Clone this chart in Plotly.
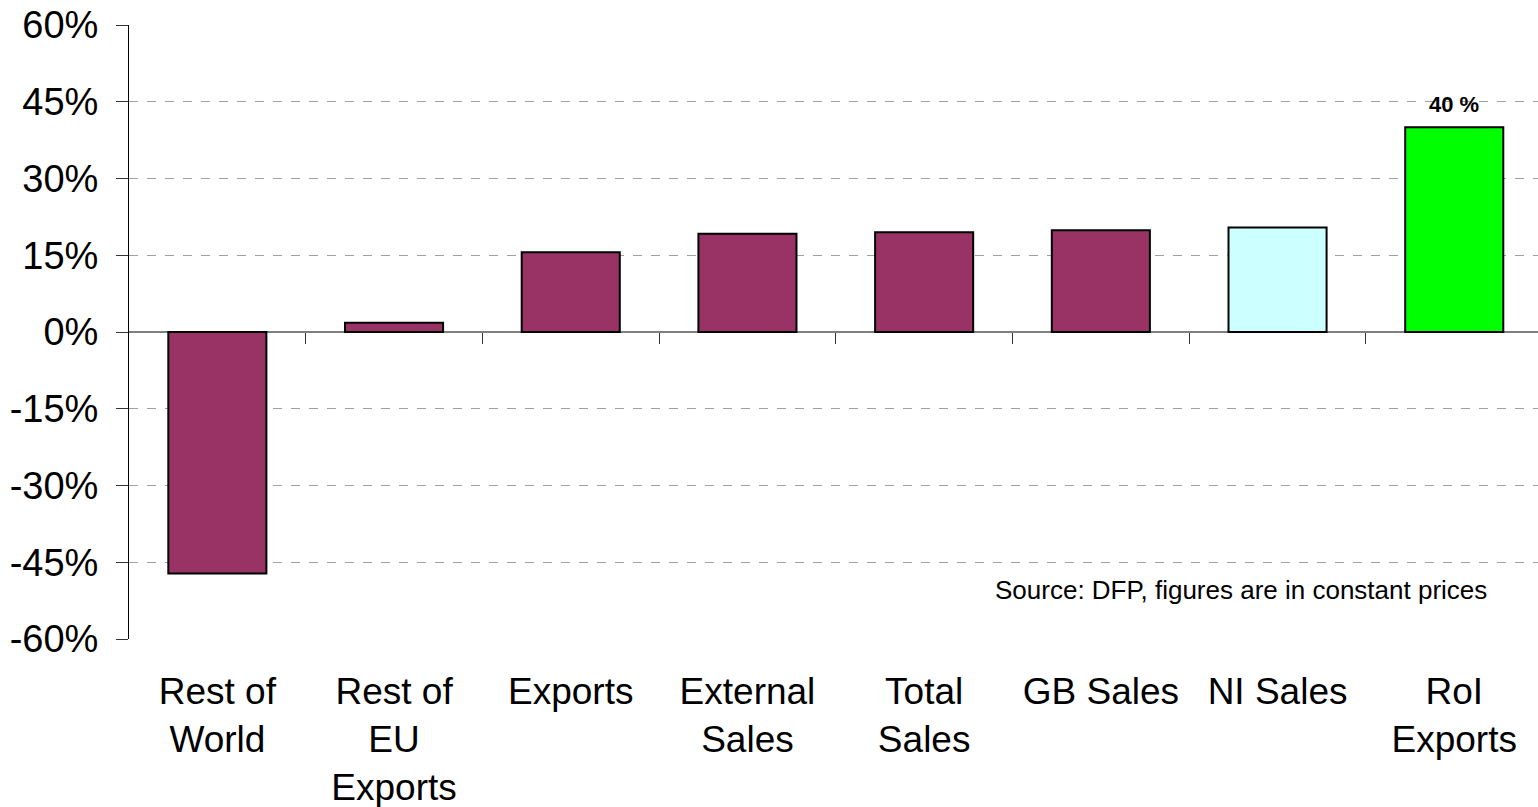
import plotly.graph_objects as go

# Growth by market, per cent change
categories = ["Rest of<br>World", "Rest of<br>EU<br>Exports", "Exports", "External<br>Sales",
              "Total<br>Sales", "GB Sales", "NI Sales", "RoI<br>Exports"]
growth = [-47.2, 1.8, 15.6, 19.2, 19.5, 19.9, 20.4, 40.0]
bar_colors = ["#993366", "#993366", "#993366", "#993366", "#993366", "#993366", "#CCFFFF", "#00FF00"]
y_ticks = [-60, -45, -30, -15, 0, 15, 30, 45, 60]
y_tick_text = ["-60%", "-45%", "-30%", "-15%", "0%", "15%", "30%", "45%", "60%"]
source_note = "Source: DFP, figures are in constant prices"

FONT = "Arial, Liberation Sans, sans-serif"
x_pos = list(range(len(categories)))
x_range = [-0.5, 7.474]

fig = go.Figure()

fig.add_trace(go.Bar(
    x=x_pos, y=growth,
    width=0.555,
    marker=dict(color=bar_colors, line=dict(color="black", width=2)),
    hoverinfo="skip", showlegend=False,
))

# invisible trace so the category-boundary tick axis is drawn
fig.add_trace(go.Scatter(
    x=[0], y=[0], xaxis="x2", yaxis="y", mode="markers",
    marker=dict(opacity=0), hoverinfo="skip", showlegend=False,
))

# value label on the RoI bar
fig.add_annotation(
    x=x_pos[-1], y=growth[-1], xref="x", yref="y",
    text=f"<b>{growth[-1]:.0f} %</b>", showarrow=False,
    yanchor="bottom", yshift=8,
    font=dict(family=FONT, size=22, color="black"),
)

fig.add_annotation(
    x=0.9652, y=-50.4, xref="paper", yref="y",
    text=source_note, showarrow=False, xanchor="right", yanchor="middle",
    font=dict(family=FONT, size=26, color="black"),
)

fig.update_layout(
    width=1538, height=807,
    margin=dict(l=129, r=0, t=25, b=168, autoexpand=False),
    paper_bgcolor="white", plot_bgcolor="white",
    font=dict(family=FONT, color="black"),
    bargap=0.445,
    xaxis=dict(
        range=x_range, tickmode="array", tickvals=x_pos, ticktext=categories,
        showgrid=False, zeroline=False, showline=False, ticks="",
        tickfont=dict(size=37, color="black"), ticklabelstandoff=27,
    ),
    xaxis2=dict(
        range=x_range, overlaying="x", anchor="free", position=0.5,
        tickmode="array", tickvals=[i + 0.5 for i in range(len(categories) - 1)],
        ticks="outside", ticklen=11, tickwidth=1, tickcolor="#333333",
        showticklabels=False, showgrid=False, zeroline=False, showline=False,
    ),
    yaxis=dict(
        range=[-60, 60], tickmode="array", tickvals=y_ticks, ticktext=y_tick_text,
        showgrid=True, gridcolor="#a0a0a0", griddash="dash", gridwidth=1,
        zeroline=True, zerolinecolor="#808080", zerolinewidth=1.5,
        showline=True, linecolor="black", linewidth=1,
        ticks="outside", ticklen=12, tickcolor="#333333",
        tickfont=dict(size=38, color="black"), ticklabelstandoff=10,
    ),
)

fig.write_html("out.html")
